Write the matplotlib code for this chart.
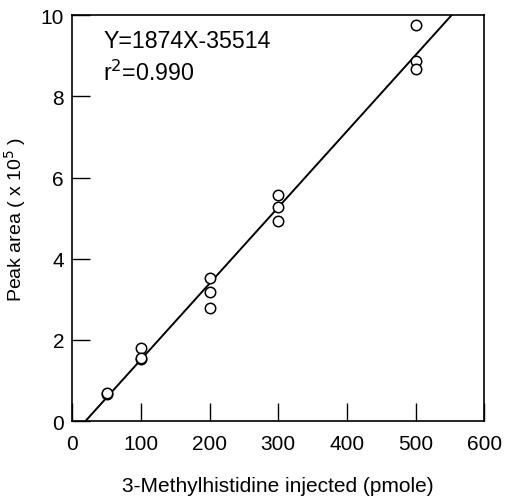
import numpy as np
import matplotlib.pyplot as plt

plt.rcParams['font.family'] = ['Liberation Sans', 'DejaVu Sans']

# Data (peak area in units of 1e5)
amount = [50, 50, 100, 100, 100, 200, 200, 200, 300, 300, 300, 500, 500, 500]
area = [0.66, 0.70, 1.79, 1.52, 1.55, 3.53, 3.19, 2.78, 5.56, 5.28, 4.94, 9.75, 8.87, 8.66]

slope = 1874
intercept = -35514

fig = plt.figure(figsize=(5.06, 5.02), dpi=100)
ax = fig.add_axes([0.143, 0.159, 0.814, 0.809])

# regression line, clipped by the axes limits
xl = np.array([0, 600])
ax.plot(xl, (slope * xl + intercept) / 1e5, color='black', linewidth=1.4)

ax.plot(amount, area, linestyle='none', marker='o', markersize=7.5,
        markerfacecolor='white', markeredgecolor='black', markeredgewidth=1.1)

ax.set_xlim(0, 600)
ax.set_ylim(0, 10)
ax.set_xticks([0, 100, 200, 300, 400, 500, 600])
ax.set_yticks([0, 2, 4, 6, 8, 10])
ax.tick_params(direction='in', length=13, width=1, labelsize=15)
ax.tick_params(axis='x', pad=9)
ax.tick_params(axis='y', pad=6)
for s in ax.spines.values():
    s.set_linewidth(1.2)

ax.text(0.075, 0.965, 'Y=1874X-35514', transform=ax.transAxes,
        fontsize=16.7, va='top', ha='left')
ax.text(0.075, 0.89, r'r$^2$=0.990', transform=ax.transAxes,
        fontsize=16.7, va='top', ha='left')

ax.set_xlabel('3-Methylhistidine injected (pmole)', fontsize=15, labelpad=17)
ax.set_ylabel(r'Peak area ( x 10$^5$ )', fontsize=14, labelpad=9)

fig.savefig('out.png', dpi=100)
